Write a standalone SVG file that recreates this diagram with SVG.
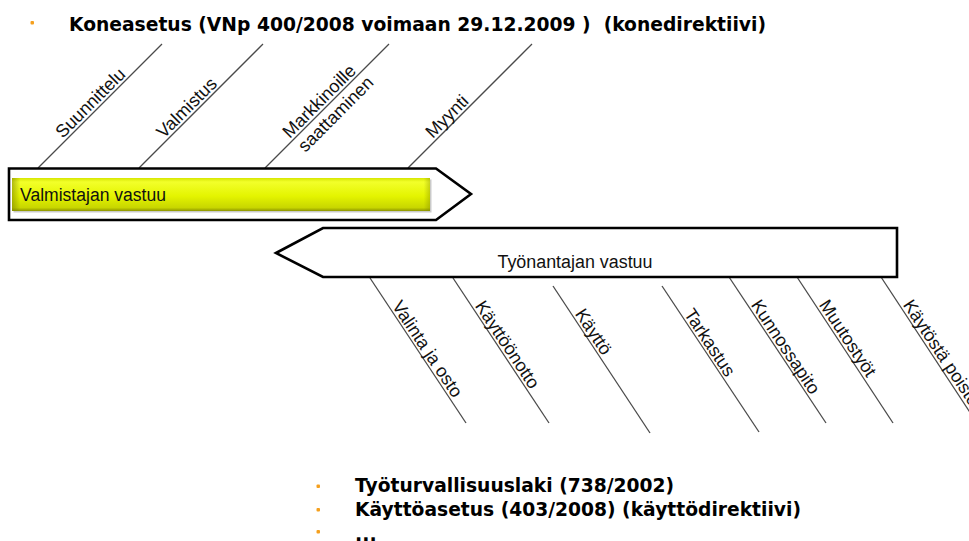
<svg xmlns="http://www.w3.org/2000/svg" width="969" height="541" viewBox="0 0 969 541">
  <defs>
    <linearGradient id="yel" x1="0" y1="0" x2="0" y2="1">
      <stop offset="0" stop-color="#d6e600"/>
      <stop offset="0.12" stop-color="#f2ff2a"/>
      <stop offset="0.55" stop-color="#e4f400"/>
      <stop offset="0.9" stop-color="#c8d600"/>
      <stop offset="1" stop-color="#8e9600"/>
    </linearGradient>
    <linearGradient id="yelL" x1="0" y1="0" x2="1" y2="0">
      <stop offset="0" stop-color="#7a8000" stop-opacity="0.55"/>
      <stop offset="0.02" stop-color="#7a8000" stop-opacity="0"/>
      <stop offset="0.985" stop-color="#7a8000" stop-opacity="0"/>
      <stop offset="1" stop-color="#7a8000" stop-opacity="0.35"/>
    </linearGradient>
  </defs>
  <style>
    .arrow { fill: #ffffff; stroke: #000000; stroke-width: 2.6; stroke-linejoin: miter; }
    .ln { stroke: #4a4a4a; stroke-width: 1.3; fill: none; }
    .lbl { font-family: "Liberation Sans", Arial, sans-serif; font-size: 18px; fill: #111111; }
    .title { font-family: "DejaVu Sans", Verdana, sans-serif; font-weight: bold; font-size: 19px; fill: #000000; white-space: pre; }
    .bul { fill: #f5a01e; }
  </style>
  <rect x="0" y="0" width="969" height="541" fill="#ffffff"/>

  <g id="title">
    <rect class="bul" x="30.5" y="21" width="3.5" height="3.5" rx="1"/>
    <text class="title" x="69" y="31" textLength="697" lengthAdjust="spacingAndGlyphs" xml:space="preserve">Koneasetus (VNp 400/2008 voimaan 29.12.2009 )  (konedirektiivi)</text>
  </g>

  <g id="connectors">
    <line class="ln" x1="38" y1="168" x2="162" y2="44"/>
    <line class="ln" x1="139" y1="168" x2="263" y2="44"/>
    <line class="ln" x1="265" y1="168" x2="389" y2="44"/>
    <line class="ln" x1="408" y1="168" x2="532" y2="44"/>

    <line class="ln" x1="370" y1="278" x2="466" y2="423"/>
    <line class="ln" x1="453" y1="278" x2="549" y2="423"/>
    <line class="ln" x1="553" y1="286" x2="650" y2="433"/>
    <line class="ln" x1="662" y1="286" x2="759" y2="432"/>
    <line class="ln" x1="729" y1="277" x2="826" y2="423"/>
    <line class="ln" x1="797" y1="277" x2="893" y2="423"/>
    <line class="ln" x1="881" y1="277" x2="977" y2="423"/>
  </g>

  <g id="valmistajan-vastuu">
    <polygon class="arrow" points="9,168.5 436,168.5 471,194 436,220 9,220"/>
    <rect x="13.5" y="179.5" width="418" height="33" fill="#8a8a8a" opacity="0.45"/>
    <rect x="12" y="178" width="418" height="33" fill="url(#yel)"/>
    <rect x="12" y="178" width="418" height="33" fill="url(#yelL)"/>
    <text class="lbl" x="20" y="200.5" textLength="146" lengthAdjust="spacingAndGlyphs">Valmistajan vastuu</text>
  </g>

  <g id="tyonantajan-vastuu">
    <polygon class="arrow" points="276,253 323,228 897,228 897,277 323,277"/>
    <text class="lbl" x="575" y="268" text-anchor="middle" textLength="155" lengthAdjust="spacingAndGlyphs">Työnantajan vastuu</text>
  </g>

  <g id="suunnittelu"><text class="lbl" transform="translate(62.8,139) rotate(-45)">Suunnittelu</text></g>
  <g id="valmistus"><text class="lbl" transform="translate(163.8,139) rotate(-45)">Valmistus</text></g>
  <g id="markkinoille">
    <text class="lbl" transform="translate(289.8,139) rotate(-45)">Markkinoille</text>
    <text class="lbl" transform="translate(305.3,153.1) rotate(-45)">saattaminen</text>
  </g>
  <g id="myynti"><text class="lbl" transform="translate(432.8,139) rotate(-45)">Myynti</text></g>

  <g id="valinta"><text class="lbl" transform="translate(391.4,305.8) rotate(56.4)">Valinta ja osto</text></g>
  <g id="kayttoonotto"><text class="lbl" transform="translate(474.4,305.8) rotate(56.4)">Käyttöönotto</text></g>
  <g id="kaytto"><text class="lbl" transform="translate(574.4,313.8) rotate(56.4)">Käyttö</text></g>
  <g id="tarkastus"><text class="lbl" transform="translate(683.4,313.8) rotate(56.4)">Tarkastus</text></g>
  <g id="kunnossapito"><text class="lbl" transform="translate(750.4,304.8) rotate(56.4)">Kunnossapito</text></g>
  <g id="muutostyot"><text class="lbl" transform="translate(818.4,304.8) rotate(56.4)">Muutostyöt</text></g>
  <g id="kaytosta-poisto"><text class="lbl" transform="translate(902.4,304.8) rotate(56.4)">Käytöstä poisto</text></g>

  <g id="laws">
    <rect class="bul" x="316.5" y="484.5" width="3.5" height="3.5" rx="1"/>
    <text class="title" x="355" y="492" textLength="319" lengthAdjust="spacingAndGlyphs">Työturvallisuuslaki (738/2002)</text>
    <rect class="bul" x="316.5" y="508" width="3.5" height="3.5" rx="1"/>
    <text class="title" x="355" y="516" textLength="446" lengthAdjust="spacingAndGlyphs">Käyttöasetus (403/2008) (käyttödirektiivi)</text>
    <rect class="bul" x="316.5" y="530" width="3.5" height="3.5" rx="1"/>
    <text class="title" x="355" y="541">...</text>
  </g>
</svg>
